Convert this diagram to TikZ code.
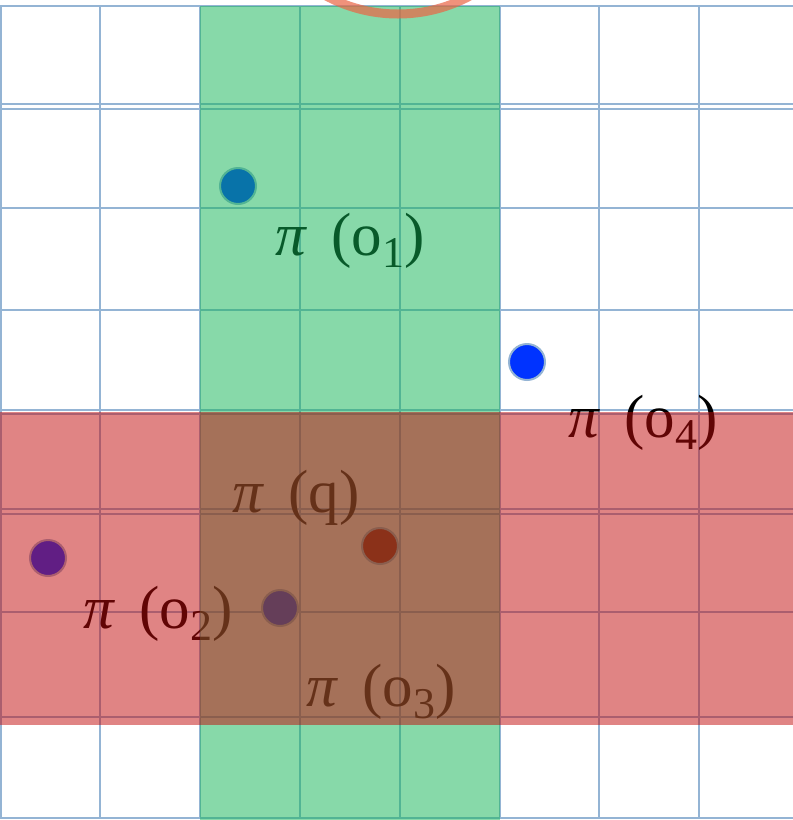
\documentclass[tikz,border=0pt]{standalone}
\usepackage{fontspec}
\setmainfont{Liberation Serif}
\usepackage{graphicx}
\definecolor{gridc}{RGB}{148,180,212}
\definecolor{ptblue}{RGB}{0,51,255}
\definecolor{ptred}{RGB}{150,0,0}
\definecolor{greenov}{RGB}{17,180,85}
\definecolor{redov}{RGB}{195,10,10}
\definecolor{arcc}{RGB}{235,101,68}
\newcommand\pilab[1]{\textit{π}\hspace{0.4em}(o\raisebox{-0.2em}{\scalebox{0.72}{#1}})}
\tikzset{
  gridline/.style={draw=gridc, line width=2pt},
  pt/.style={circle, minimum size=36pt, inner sep=0pt, draw=gridc, line width=2pt},
  lab/.style={anchor=base west, inner sep=0pt, font=\fontsize{61}{63}\selectfont, text=black},
  band/.style={opacity=0.5}
}
\begin{document}
\begin{tikzpicture}[x=1pt,y=-1pt]
\useasboundingbox (0,0) rectangle (793,820);
\clip (0,0) rectangle (793,820);
\fill[white] (0,0) rectangle (793,820);
% grid
\foreach \x in {1,99.5,199.5,299.5,399.5,499.5,599,698.5}
  \draw[gridline] (\x,6) -- (\x,818);
\foreach \y in {6,104,109,208,310,410,414,509,514,612,717,818}
  \draw[gridline] (0,\y) -- (793,\y);
% points
\node[pt, fill=ptblue] (o1) at (238,186) {};
\node[pt, fill=ptblue] (o4) at (527,362) {};
\node[pt, fill=ptblue] (o2) at (48,558) {};
\node[pt, fill=ptblue] (o3) at (280,608) {};
\node[pt, fill=ptred] (q) at (380,546) {};
% labels
\node[lab] (l1) at (275,255) {\pilab{1}};
\node[lab] (l4) at (568,437) {\pilab{4}};
\node[lab] (lq) at (232,512) {\textit{π}\hspace{0.4em}(q)};
\node[lab] (l2) at (83,628) {\pilab{2}};
\node[lab] (l3) at (306,706) {\pilab{3}};
% bands
\fill[greenov, band] (199.5,6) rectangle (499.5,820);
\fill[redov, band] (0,412) rectangle (793,725);
% arc
\draw[arcc, opacity=0.7, line width=9pt] (398,-138) circle[radius=152];
\end{tikzpicture}
\end{document}
